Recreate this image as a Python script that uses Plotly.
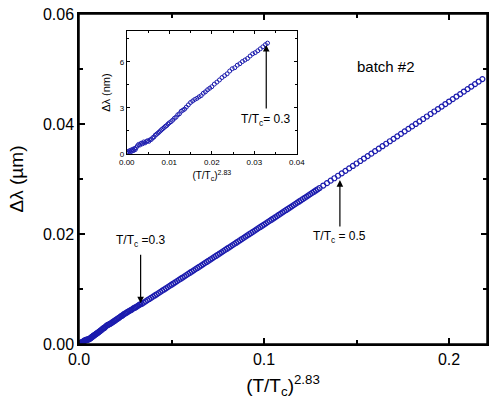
import plotly.graph_objects as go

# inset data: (T/Tc)^2.83 and delta lambda in nm (low temperature part)
x_low = [0.0000, 0.0002, 0.0004, 0.0006, 0.0008, 0.0010, 0.0012, 0.0014, 0.0016, 0.0018,
         0.0020, 0.0022, 0.0025, 0.0028, 0.0031, 0.0034, 0.0037, 0.0040, 0.0043, 0.0046,
         0.0049, 0.0052, 0.0055, 0.0058, 0.0061, 0.0064, 0.0067, 0.0070, 0.0073, 0.0076,
         0.0079, 0.0082, 0.0085, 0.0088, 0.0091, 0.0094, 0.0097, 0.0100, 0.0104, 0.0108,
         0.0112, 0.0116, 0.0120, 0.0124, 0.0128, 0.0132, 0.0136, 0.0140, 0.0145, 0.0150,
         0.0155, 0.0160, 0.0165, 0.0170, 0.0175, 0.0180, 0.0185, 0.0190, 0.0195, 0.0200,
         0.0206, 0.0212, 0.0218, 0.0224, 0.0230, 0.0236, 0.0242, 0.0248, 0.0254, 0.0260,
         0.0266, 0.0272, 0.0278, 0.0284, 0.0290, 0.0296, 0.0302, 0.0308, 0.0314, 0.0320,
         0.0326, 0.0331]
dl_low_nm = [0.05, 0.15, 0.08, 0.20, 0.12, 0.25, 0.18, 0.30, 0.22, 0.35,
             0.28, 0.40, 0.52, 0.62, 0.58, 0.70, 0.66, 0.78, 0.72, 0.80,
             0.86, 0.82, 0.92, 0.95, 1.05, 1.10, 1.22, 1.28, 1.35, 1.42,
             1.50, 1.58, 1.65, 1.72, 1.80, 1.85, 1.95, 2.02, 2.10, 2.20,
             2.32, 2.40, 2.55, 2.62, 2.78, 2.85, 2.92, 3.05, 3.20, 3.35,
             3.45, 3.55, 3.62, 3.72, 3.80, 3.95, 4.05, 4.18, 4.28, 4.38,
             4.55, 4.68, 4.82, 4.98, 5.10, 5.22, 5.40, 5.55, 5.62, 5.78,
             5.88, 6.02, 6.12, 6.22, 6.38, 6.52, 6.60, 6.72, 6.85, 6.98,
             7.12, 7.22]

# higher temperature part, delta lambda in um
x_high = [0.034, 0.035, 0.036, 0.037, 0.038, 0.039, 0.040, 0.041, 0.042, 0.043,
          0.044, 0.045, 0.046, 0.047, 0.048, 0.049, 0.050, 0.051, 0.052, 0.053,
          0.054, 0.055, 0.056, 0.057, 0.058, 0.059, 0.060, 0.061, 0.062, 0.063,
          0.064, 0.065, 0.066, 0.067, 0.068, 0.069, 0.070, 0.071, 0.072, 0.073,
          0.074, 0.075, 0.076, 0.077, 0.078, 0.079, 0.080, 0.081, 0.082, 0.083,
          0.084, 0.085, 0.086, 0.087, 0.088, 0.089, 0.090, 0.091, 0.092, 0.093,
          0.094, 0.095, 0.096, 0.097, 0.098, 0.099, 0.100, 0.101, 0.102, 0.103,
          0.104, 0.105, 0.106, 0.107, 0.108, 0.109, 0.110, 0.111, 0.112, 0.113,
          0.114, 0.115, 0.116, 0.117, 0.118, 0.119, 0.120, 0.121, 0.122, 0.123,
          0.124, 0.125, 0.126, 0.127, 0.128, 0.129, 0.130,
          0.132, 0.134, 0.136, 0.138, 0.140, 0.142, 0.144, 0.146, 0.148, 0.150,
          0.152, 0.154, 0.156, 0.158, 0.160, 0.162, 0.164, 0.166, 0.168, 0.170,
          0.172, 0.174, 0.176, 0.178, 0.180, 0.182, 0.184, 0.186, 0.188, 0.190,
          0.192, 0.194, 0.196, 0.198, 0.200, 0.202, 0.204, 0.206, 0.208, 0.210,
          0.212, 0.214, 0.216, 0.218]
dl_high_um = [0.00731, 0.00753, 0.00775, 0.00797, 0.00818, 0.00840, 0.00861, 0.00883, 0.00904, 0.00926,
              0.00948, 0.00970, 0.00991, 0.01013, 0.01035, 0.01057, 0.01078, 0.01100, 0.01122, 0.01144,
              0.01165, 0.01187, 0.01208, 0.01230, 0.01252, 0.01274, 0.01296, 0.01318, 0.01339, 0.01361,
              0.01383, 0.01405, 0.01426, 0.01448, 0.01470, 0.01492, 0.01514, 0.01536, 0.01557, 0.01579,
              0.01601, 0.01623, 0.01645, 0.01667, 0.01689, 0.01711, 0.01733, 0.01755, 0.01776, 0.01798,
              0.01820, 0.01842, 0.01864, 0.01886, 0.01908, 0.01930, 0.01952, 0.01974, 0.01996, 0.02018,
              0.02040, 0.02062, 0.02084, 0.02106, 0.02128, 0.02150, 0.02172, 0.02194, 0.02216, 0.02238,
              0.02260, 0.02282, 0.02304, 0.02326, 0.02349, 0.02371, 0.02393, 0.02415, 0.02437, 0.02459,
              0.02481, 0.02503, 0.02526, 0.02548, 0.02570, 0.02592, 0.02614, 0.02636, 0.02658, 0.02680,
              0.02703, 0.02725, 0.02747, 0.02769, 0.02792, 0.02814, 0.02836,
              0.02881, 0.02925, 0.02970, 0.03014, 0.03059, 0.03103, 0.03148, 0.03193, 0.03237, 0.03282,
              0.03327, 0.03372, 0.03416, 0.03461, 0.03506, 0.03551, 0.03596, 0.03641, 0.03686, 0.03730,
              0.03776, 0.03821, 0.03866, 0.03911, 0.03956, 0.04001, 0.04046, 0.04091, 0.04136, 0.04182,
              0.04227, 0.04272, 0.04317, 0.04363, 0.04408, 0.04453, 0.04499, 0.04544, 0.04590, 0.04635,
              0.04681, 0.04726, 0.04772, 0.04817]

x_main = x_low + x_high
dl_main = [v / 1000 for v in dl_low_nm] + dl_high_um

blue = "#1c1cae"
font = "Liberation Sans, Arial, sans-serif"

fig = go.Figure()
fig.add_trace(go.Scatter(x=x_main, y=dl_main, mode="markers",
                         marker=dict(symbol="circle-open", size=5, color=blue, line=dict(width=1.2)),
                         showlegend=False))
fig.add_trace(go.Scatter(x=x_low, y=dl_low_nm, mode="markers", xaxis="x2", yaxis="y2",
                         marker=dict(symbol="circle-open", size=4, color=blue, line=dict(width=1)),
                         showlegend=False))

ax_common = dict(showline=True, linecolor="black", linewidth=1.5, mirror="ticks", automargin=False,
                 ticks="inside", tickcolor="black", showgrid=False, zeroline=False)

fig.update_layout(
    width=491, height=414,
    margin=dict(l=79, r=4, t=14, b=70),
    paper_bgcolor="white", plot_bgcolor="white",
    font=dict(family=font, color="black"),
    xaxis=dict(ax_common, range=[0, 0.2205], dtick=0.1, tickformat=".1f", ticklen=6, tickwidth=1.5,
               tickfont=dict(size=16),
               minor=dict(dtick=0.05, ticks="inside", ticklen=4, tickcolor="black", showgrid=False),
               title=dict(text="(T/T<sub>c</sub>)<sup>2.83</sup>", font=dict(size=19), standoff=12)),
    yaxis=dict(ax_common, range=[0, 0.06], dtick=0.02, tickformat=".2f", ticklen=6, tickwidth=1.5,
               tickfont=dict(size=16),
               minor=dict(dtick=0.01, ticks="inside", ticklen=4, tickcolor="black", showgrid=False),
               title=dict(text="Δλ (µm)", font=dict(size=19), standoff=14)),
    xaxis2=dict(ax_common, domain=[0.117, 0.534], anchor="y2", range=[0, 0.04], dtick=0.01,
                tickformat=".2f", ticklen=3, linewidth=1, tickwidth=1, tickfont=dict(size=8),
                minor=dict(dtick=0.005, ticks="inside", ticklen=2, tickcolor="black", showgrid=False),
                title=dict(text="(T/T<sub>c</sub>)<sup>2.83</sup>", font=dict(size=10), standoff=6)),
    yaxis2=dict(ax_common, domain=[0.576, 0.948], anchor="x2", range=[0, 8.0], dtick=3,
                ticklen=3, linewidth=1, tickwidth=1, tickfont=dict(size=8),
                minor=dict(dtick=1.5, ticks="inside", ticklen=2, tickcolor="black", showgrid=False),
                title=dict(text="Δλ (nm)", font=dict(size=11), standoff=6)),
)

# frame round the main plot area
fig.add_shape(type="rect", xref="x domain", yref="y domain", x0=0, y0=0, x1=1, y1=1,
              line=dict(color="black", width=1.5), layer="above")

arrow = dict(text="", showarrow=True, arrowhead=2, arrowsize=1.1, arrowwidth=1.2,
             arrowcolor="black", axref="pixel", ayref="pixel")
# main plot arrows
fig.add_annotation(arrow, x=0.0333, y=0.0074, xref="x", yref="y", ax=0, ay=-50)
fig.add_annotation(x=0.0333, y=0.0074, xref="x", yref="y", text="T/T<sub>c</sub> =0.3",
                   showarrow=False, yshift=62, font=dict(size=12))
fig.add_annotation(arrow, x=0.141, y=0.0298, xref="x", yref="y", ax=0, ay=48)
fig.add_annotation(x=0.141, y=0.0298, xref="x", yref="y", text="T/T<sub>c</sub> = 0.5",
                   showarrow=False, yshift=-57, font=dict(size=12))
# inset arrow
fig.add_annotation(arrow, x=0.0328, y=7.1, xref="x2", yref="y2", ax=0, ay=65)
fig.add_annotation(x=0.0328, y=7.1, xref="x2", yref="y2", text="T/T<sub>c</sub>= 0.3",
                   showarrow=False, yshift=-75, font=dict(size=12))

fig.add_annotation(x=0.166, y=0.0505, xref="x", yref="y", text="batch #2", showarrow=False,
                   font=dict(size=15))

# drop the default page margin so the figure sits at the window's corner
fig.write_html("out.html", config={"displayModeBar": False},
               post_script="document.body.style.margin='0';")
